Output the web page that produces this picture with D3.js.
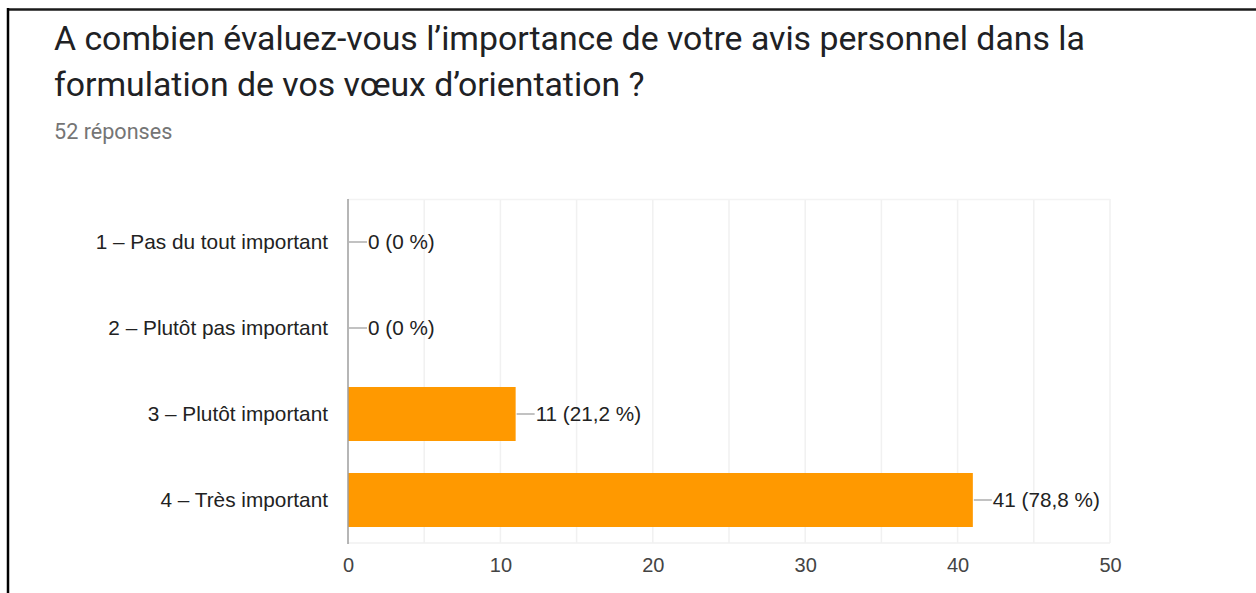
<!DOCTYPE html>
<html><head><meta charset="utf-8">
<script src="https://cdn.jsdelivr.net/npm/d3@7"></script>
<style>html,body{margin:0;padding:0;background:#fff;}svg{display:block;}</style>
</head><body>
<script>
const titleLines = ["A combien évaluez-vous l’importance de votre avis personnel dans la", "formulation de vos vœux d’orientation ?"];
const subtitle = "52 réponses";
const categories = ["1 – Pas du tout important", "2 – Plutôt pas important", "3 – Plutôt important", "4 – Très important"];
const counts = [0, 0, 11, 41];
const percents = ["0 %", "0 %", "21,2 %", "78,8 %"];
const xTicks = [0, 10, 20, 30, 40, 50];
const xGrid = [5, 10, 15, 20, 25, 30, 35, 40, 45, 50];

const W = 1256, H = 593;
const svg = d3.select("body").append("svg").attr("width", W).attr("height", H);

// frame
svg.append("rect").attr("x", 0).attr("y", 0).attr("width", W).attr("height", H).attr("fill", "#fff");
svg.append("line").attr("x1", 7).attr("x2", W).attr("y1", 9.5).attr("y2", 9.5).attr("stroke", "#1a1a1a").attr("stroke-width", 2.5);
svg.append("line").attr("x1", 8).attr("x2", 8).attr("y1", 8).attr("y2", H).attr("stroke", "#000").attr("stroke-width", 2.5);

// title
const t = svg.append("text").attr("font-family", "Roboto").attr("font-size", 33.8).attr("fill", "#202124");
titleLines.forEach((l, i) => t.append("tspan").attr("x", 54).attr("y", 50 + i * 46).text(l));
svg.append("text").attr("x", 54).attr("y", 139).attr("font-family", "Roboto").attr("font-size", 21.6).attr("fill", "#757575").text(subtitle);

const x = d3.scaleLinear().domain([0, 50]).range([348, 1110]);
const y = d3.scaleBand().domain(categories).range([199, 543]).paddingInner(0.372).paddingOuter(0.186);

// grid
const g = svg.append("g");
g.selectAll("line.grid").data(xGrid).join("line").attr("class", "grid")
  .attr("x1", d => x(d)).attr("x2", d => x(d)).attr("y1", 199).attr("y2", 543)
  .attr("stroke", "#f1f1f1").attr("stroke-width", 1.5);
g.append("line").attr("x1", 348).attr("x2", 1110).attr("y1", 199.5).attr("y2", 199.5).attr("stroke", "#f3f3f3").attr("stroke-width", 1.5);
g.append("line").attr("x1", 348).attr("x2", 1110).attr("y1", 543).attr("y2", 543).attr("stroke", "#f1f1f1").attr("stroke-width", 1.5);

// bars
g.selectAll("rect.bar").data(categories).join("rect").attr("class", "bar")
  .attr("x", x(0)).attr("y", d => y(d)).attr("width", (d, i) => x(counts[i]) - x(0)).attr("height", y.bandwidth())
  .attr("fill", "#ff9900");

// axis line
g.append("line").attr("x1", 348).attr("x2", 348).attr("y1", 199).attr("y2", 544).attr("stroke", "#9e9e9e").attr("stroke-width", 1.5);

// category labels
const yAxis = d3.axisLeft(y).tickSize(0).tickPadding(0);
const ya = svg.append("g").attr("transform", "translate(328,0)").call(yAxis);
ya.select(".domain").remove();
ya.selectAll("text").attr("font-family", "Liberation Sans, Arial").attr("font-size", 20.8).attr("fill", "#222").attr("dy", "0.35em");

// data labels
categories.forEach((c, i) => {
  const cy = y(c) + y.bandwidth() / 2;
  const x0 = x(counts[i]) + 1;
  g.append("line").attr("x1", x0).attr("x2", x0 + 18).attr("y1", cy).attr("y2", cy).attr("stroke", "#999").attr("stroke-width", 1.2);
  g.append("text").attr("x", x0 + 19).attr("y", cy).attr("dy", "0.35em").attr("font-family", "Liberation Sans, Arial").attr("font-size", 20.7).attr("fill", "#222")
    .text(`${counts[i]} (${percents[i]})`);
});

// x axis ticks
const xAxis = d3.axisBottom(x).tickValues(xTicks).tickSize(0).tickPadding(0).tickFormat(d3.format("d"));
const xa = svg.append("g").attr("transform", "translate(0,565)").call(xAxis);
xa.select(".domain").remove();
xa.selectAll("text").attr("font-family", "Liberation Sans, Arial").attr("font-size", 20).attr("fill", "#444").attr("dy", "0.35em");
</script>
</body></html>
